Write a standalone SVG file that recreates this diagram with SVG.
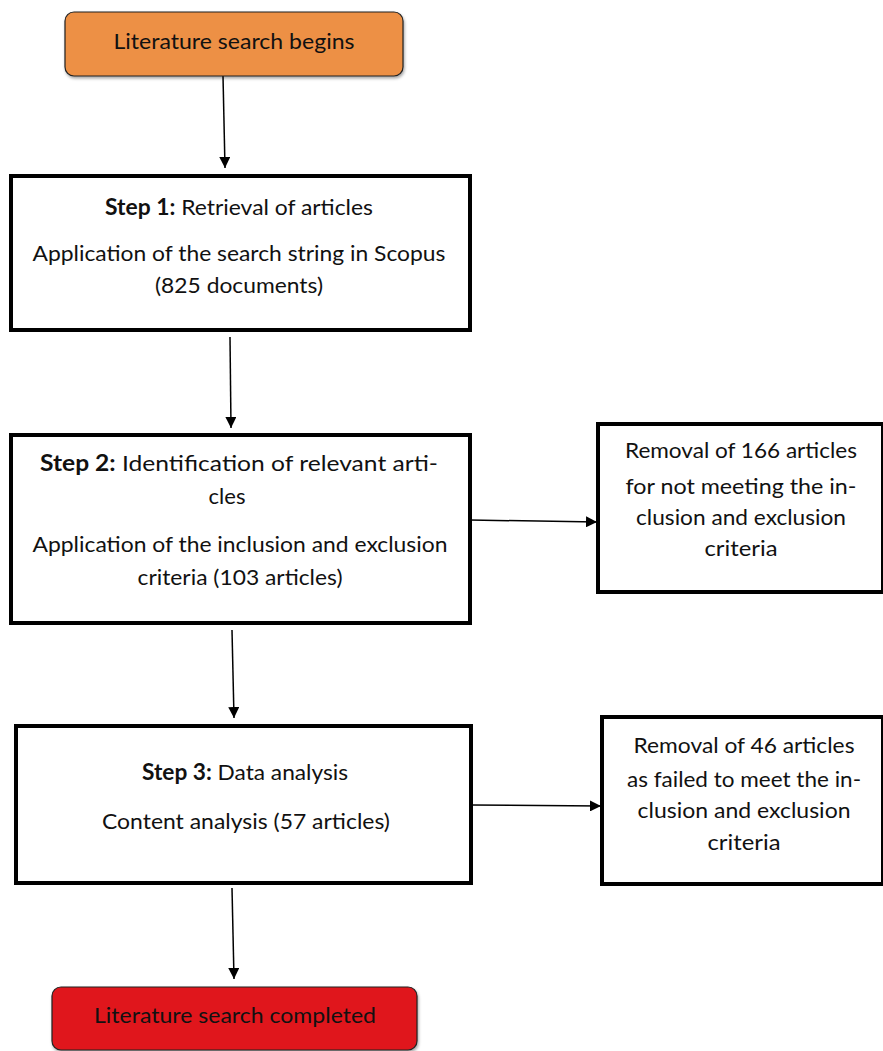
<svg xmlns="http://www.w3.org/2000/svg" width="883" height="1051" viewBox="0 0 883 1051">
  <style>
    text { font-family: "Lato", "Open Sans", "Liberation Sans", sans-serif; font-size: 22px; fill: #111; text-anchor: middle; }
    .b { font-weight: bold; }
    .box { fill: #fff; stroke: #000; stroke-width: 4; }
    .term { stroke: #222; stroke-width: 1.2; }
    .conn { stroke: #000; stroke-width: 1.5; fill: none; marker-end: url(#arrow); }
  </style>
  <defs>
    <marker id="arrow" viewBox="0 0 10 10" refX="10" refY="5" markerWidth="11" markerHeight="11" markerUnits="userSpaceOnUse" orient="auto">
      <path d="M0,0 L10,5 L0,10 z" fill="#000"/>
    </marker>
    <filter id="shadow" x="-5%" y="-10%" width="110%" height="130%">
      <feDropShadow dx="1" dy="2" stdDeviation="1.5" flood-color="#000" flood-opacity="0.35"/>
    </filter>
  </defs>

  <!-- connectors -->
  <g id="connectors">
    <line class="conn" x1="223" y1="76" x2="225" y2="168"/>
    <line class="conn" x1="230" y1="337" x2="231" y2="428"/>
    <line class="conn" x1="470" y1="520" x2="597" y2="522"/>
    <line class="conn" x1="232" y1="630" x2="234" y2="718"/>
    <line class="conn" x1="471" y1="805" x2="601" y2="806"/>
    <line class="conn" x1="232" y1="888" x2="234" y2="979"/>
  </g>

  <g id="start">
    <rect class="term" x="65" y="12" width="338" height="64" rx="9" fill="#ED9044" filter="url(#shadow)"/>
    <text x="234" y="49" textLength="241" lengthAdjust="spacingAndGlyphs">Literature search begins</text>
  </g>

  <g id="step1">
    <rect class="box" x="11" y="176" width="459" height="154"/>
    <text x="239" y="215" textLength="268" lengthAdjust="spacingAndGlyphs"><tspan class="b">Step 1:</tspan> Retrieval of articles</text>
    <text x="239" y="261" textLength="413" lengthAdjust="spacingAndGlyphs">Application of the search string in Scopus</text>
    <text x="239" y="293" textLength="168" lengthAdjust="spacingAndGlyphs">(825 documents)</text>
  </g>

  <g id="step2">
    <rect class="box" x="11" y="435" width="459" height="188"/>
    <text x="239" y="471" textLength="398" lengthAdjust="spacingAndGlyphs"><tspan class="b">Step 2:</tspan> Identification of relevant arti-</text>
    <text x="227" y="504" textLength="37" lengthAdjust="spacingAndGlyphs">cles</text>
    <text x="240" y="552" textLength="415" lengthAdjust="spacingAndGlyphs">Application of the inclusion and exclusion</text>
    <text x="240" y="585" textLength="205" lengthAdjust="spacingAndGlyphs">criteria (103 articles)</text>
  </g>

  <g id="removal1">
    <rect class="box" x="598" y="424" width="285" height="168"/>
    <text x="741" y="458" textLength="232" lengthAdjust="spacingAndGlyphs">Removal of 166 articles</text>
    <text x="741" y="494" textLength="231" lengthAdjust="spacingAndGlyphs">for not meeting the in-</text>
    <text x="741" y="525" textLength="210" lengthAdjust="spacingAndGlyphs">clusion and exclusion</text>
    <text x="741" y="556" textLength="73" lengthAdjust="spacingAndGlyphs">criteria</text>
  </g>

  <g id="step3">
    <rect class="box" x="16" y="726" width="455" height="157"/>
    <text x="245" y="780" textLength="206" lengthAdjust="spacingAndGlyphs"><tspan class="b">Step 3:</tspan> Data analysis</text>
    <text x="246" y="829" textLength="288" lengthAdjust="spacingAndGlyphs">Content analysis (57 articles)</text>
  </g>

  <g id="removal2">
    <rect class="box" x="602" y="717" width="281" height="167"/>
    <text x="744" y="753" textLength="221" lengthAdjust="spacingAndGlyphs">Removal of 46 articles</text>
    <text x="744" y="787" textLength="234" lengthAdjust="spacingAndGlyphs">as failed to meet the in-</text>
    <text x="744" y="818" textLength="213" lengthAdjust="spacingAndGlyphs">clusion and exclusion</text>
    <text x="744" y="850" textLength="73" lengthAdjust="spacingAndGlyphs">criteria</text>
  </g>

  <g id="end">
    <rect class="term" x="52" y="987" width="365" height="63" rx="9" fill="#E0191B" filter="url(#shadow)"/>
    <text x="235" y="1023" textLength="282" lengthAdjust="spacingAndGlyphs">Literature search completed</text>
  </g>
</svg>
